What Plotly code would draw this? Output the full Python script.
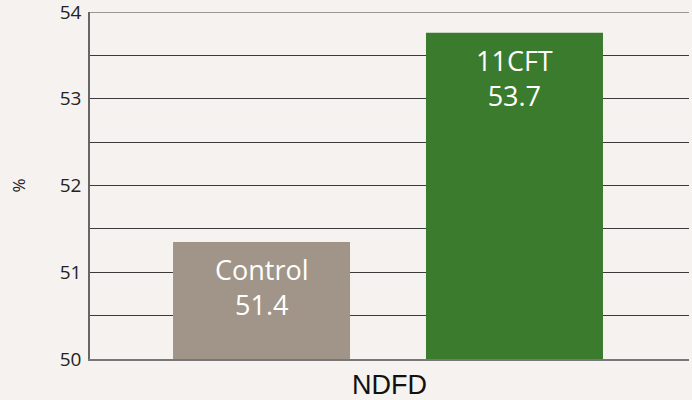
import plotly.graph_objects as go

category = ["NDFD"]
series_names = ["Control", "11CFT"]
series_values = [51.35, 53.76]
value_labels = ["51.4", "53.7"]
series_colors = ["#a19589", "#3a7b2e"]

y_tick_vals = [50, 51, 52, 53, 54]
y_tick_text = ["50", "51", "52", "53", "54"]
y_minor_vals = [50.5, 51.5, 52.5, 53.5]

bar_width = 0.2955
offsets = [-0.3614, 0.0609]

fig = go.Figure()
for name, val, lab, col, off in zip(series_names, series_values, value_labels, series_colors, offsets):
    fig.add_trace(go.Bar(
        x=category, y=[val], name=name,
        marker=dict(color=col, line=dict(width=0)),
        width=bar_width, offset=off,
        hoverinfo="skip",
    ))
    fig.add_annotation(
        x=off + bar_width / 2, y=val, xref="x", yref="y",
        text=f"{name}<br>{lab}", showarrow=False,
        xanchor="center", yanchor="top", yshift=-7,
        font=dict(family="Open Sans", size=27, color="white"),
    )

# top border line at the max of the value axis
fig.add_shape(type="line", xref="paper", yref="y", x0=0, x1=1,
              y0=y_tick_vals[-1], y1=y_tick_vals[-1],
              line=dict(color="#7a7a7a", width=1.5), layer="above")

fig.update_layout(
    width=692, height=400,
    margin=dict(l=90, r=3, t=12, b=41),
    paper_bgcolor="#f5f2ef", plot_bgcolor="#f5f2ef",
    barmode="overlay", showlegend=False,
    font=dict(family="Open Sans", color="#222222"),
)
fig.update_xaxes(
    type="category", range=[-0.5, 0.5], automargin=False,
    showline=True, linecolor="#777777", linewidth=1.5,
    ticks="inside", tickson="boundaries", ticklen=9, tickcolor="#555555", tickwidth=1.5,
    showgrid=False,
    tickfont=dict(family="Liberation Sans", size=27, color="#111111"),
    ticklabelstandoff=1,
)
fig.update_yaxes(
    range=[50, 54], tickvals=y_tick_vals, ticktext=y_tick_text, automargin=False,
    ticklabeloverflow="allow",
    showline=True, linecolor="#666666", linewidth=1.5,
    showgrid=True, gridcolor="#3a3a3a", gridwidth=1,
    minor=dict(tickvals=y_minor_vals, showgrid=True, gridcolor="#3a3a3a", gridwidth=1),
    ticks="", ticklabelstandoff=3,
    tickfont=dict(family="Open Sans", size=19, color="#222222"),
    title=dict(text="%", font=dict(family="Open Sans", size=17, color="#222222"), standoff=30),
    zeroline=False,
)

fig.write_html("out.html", config={"displayModeBar": False},
               post_script="document.body.style.margin='0px';")
